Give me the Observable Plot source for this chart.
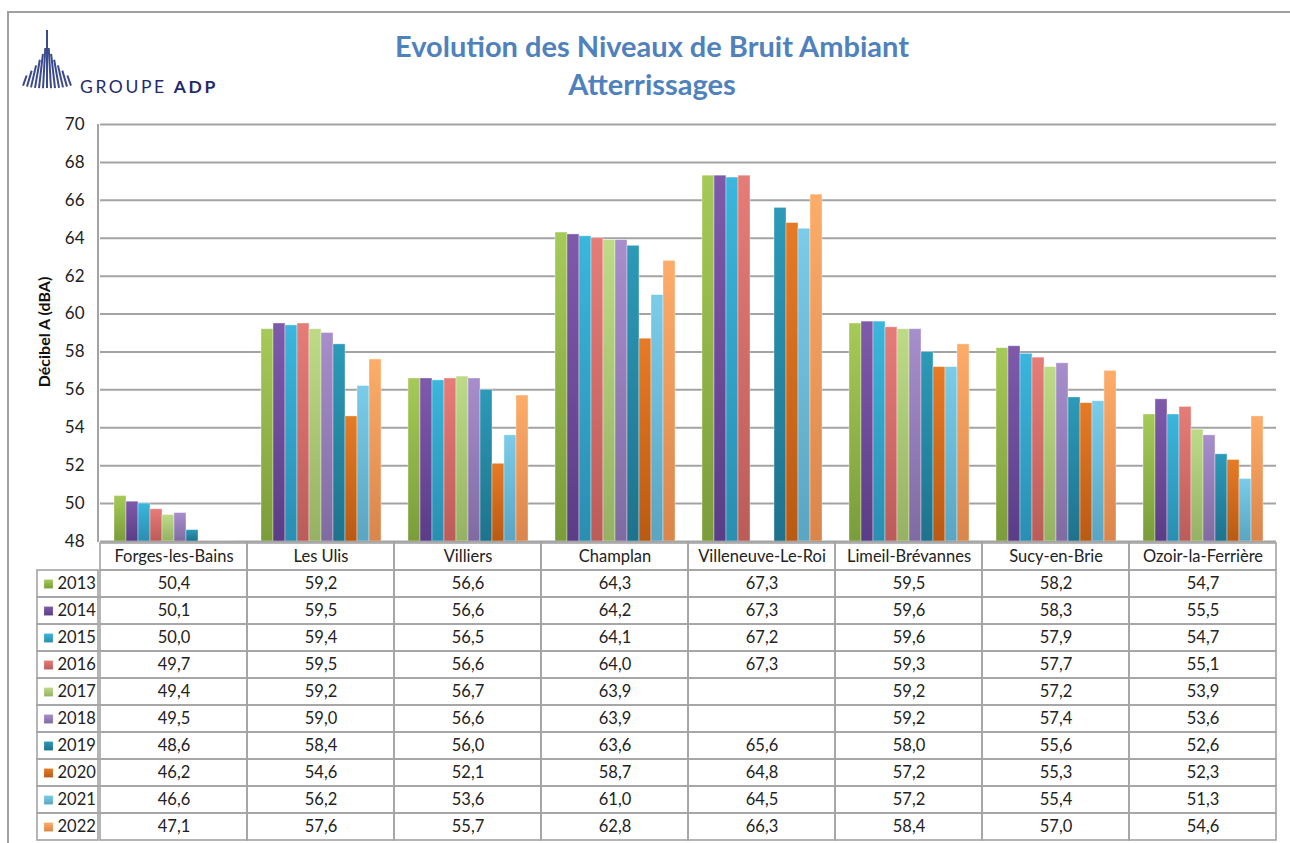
<!DOCTYPE html>
<html>
<head>
<meta charset="utf-8">
<script src="https://cdn.jsdelivr.net/npm/d3@7"></script>
<script src="https://cdn.jsdelivr.net/npm/@observablehq/plot@0.6"></script>
<style>
  html, body { margin: 0; padding: 0; background: #fff; }
  #root { position: relative; width: 1290px; height: 843px; overflow: hidden; font-family: Lato, "Open Sans", sans-serif; background: #fff; }
  #root svg.plotsvg { position: absolute; }
  #frame { position: absolute; left: 7px; top: 11px; width: 2000px; height: 2000px; border-left: 2px solid #a0a0a0; border-top: 2px solid #a0a0a0; }
  #title { position: absolute; left: 0; width: 1304px; top: 27px; text-align: center; color: #4f81bd; font-weight: 700; font-size: 29px; line-height: 38px; }
  #ylabel { position: absolute; left: 43px; top: 332px; transform: translate(-50%, -50%) rotate(-90deg); font-weight: 700; font-size: 16px; color: #111; white-space: nowrap; }
  #yline { position: absolute; left: 97px; top: 124px; width: 2px; height: 418px; background: #a3a3a3; }
  #logo { position: absolute; left: 0; top: 0; }
</style>
</head>
<body>
<div id="root">
  <div id="frame"></div>
  <svg id="logo" width="240" height="110" viewBox="0 0 240 110"></svg>
  <div id="title">Evolution des Niveaux de Bruit Ambiant<br>Atterrissages</div>
  <div id="ylabel">Décibel A (dBA)</div>
</div>
<script>
// ---- Data ----
const sites = ["Forges-les-Bains", "Les Ulis", "Villiers", "Champlan", "Villeneuve-Le-Roi", "Limeil-Brévannes", "Sucy-en-Brie", "Ozoir-la-Ferrière"];
const years = [2013, 2014, 2015, 2016, 2017, 2018, 2019, 2020, 2021, 2022];
const db2013 = [50.4, 59.2, 56.6, 64.3, 67.3, 59.5, 58.2, 54.7];
const db2014 = [50.1, 59.5, 56.6, 64.2, 67.3, 59.6, 58.3, 55.5];
const db2015 = [50.0, 59.4, 56.5, 64.1, 67.2, 59.6, 57.9, 54.7];
const db2016 = [49.7, 59.5, 56.6, 64.0, 67.3, 59.3, 57.7, 55.1];
const db2017 = [49.4, 59.2, 56.7, 63.9, null, 59.2, 57.2, 53.9];
const db2018 = [49.5, 59.0, 56.6, 63.9, null, 59.2, 57.4, 53.6];
const db2019 = [48.6, 58.4, 56.0, 63.6, 65.6, 58.0, 55.6, 52.6];
const db2020 = [46.2, 54.6, 52.1, 58.7, 64.8, 57.2, 55.3, 52.3];
const db2021 = [46.6, 56.2, 53.6, 61.0, 64.5, 57.2, 55.4, 51.3];
const db2022 = [47.1, 57.6, 55.7, 62.8, 66.3, 58.4, 57.0, 54.6];
const yTicks = [48, 50, 52, 54, 56, 58, 60, 62, 64, 66, 68, 70];
const yearTop = ["#a6ca58", "#7f5aab", "#3bb6dc", "#e67c78", "#bddb87", "#a78ecc", "#2c9ab8", "#e67b26", "#7acce9", "#fdac69"];
const yearBottom = ["#7a9c3a", "#5a3d86", "#2a8eb0", "#bb5c59", "#95b163", "#7f6ba1", "#1f728c", "#b95a13", "#5aa5c1", "#da854b"];

const series = [db2013, db2014, db2015, db2016, db2017, db2018, db2019, db2020, db2021, db2022];
const rows = [];
years.forEach((yr, i) => sites.forEach((s, j) => rows.push({site: s, year: yr, value: series[i][j]})));
const fmt = v => v == null ? "" : v.toFixed(1).replace(".", ",");
const rowKeys = ["header", ...years.map(String)];
const gradUrl = years.map(y => `url(#grad${y})`);
const NS = "http://www.w3.org/2000/svg";

// ---- Logo (decorative) ----
(function () {
  const logo = document.getElementById("logo");
  const ax = 47, ay = 18;
  for (let i = -6; i <= 6; i++) {
    const a = i * 3.25 * Math.PI / 180;
    const k = Math.abs(i);
    const r0 = k === 0 ? 12 : 30 + (k - 1) * 6.2;
    const r1 = 70 + k * 0.3;
    const l = document.createElementNS(NS, "line");
    l.setAttribute("x1", ax + r0 * Math.sin(a)); l.setAttribute("y1", ay + r0 * Math.cos(a));
    l.setAttribute("x2", ax + r1 * Math.sin(a)); l.setAttribute("y2", ay + r1 * Math.cos(a));
    l.setAttribute("stroke", "#3b4a8c"); l.setAttribute("stroke-width", "2");
    logo.appendChild(l);
  }
  const t = document.createElementNS(NS, "text");
  t.setAttribute("x", 80); t.setAttribute("y", 93);
  t.setAttribute("font-family", "Lato, sans-serif"); t.setAttribute("font-size", "17.5");
  t.setAttribute("fill", "#1f2a6e"); t.setAttribute("letter-spacing", "2.6");
  t.innerHTML = '<tspan>GROUPE </tspan><tspan font-weight="700">ADP</tspan>';
  logo.appendChild(t);
})();

const root = document.getElementById("root");
const place = (svg, left, top) => { svg.classList.add("plotsvg"); svg.style.left = left + "px"; svg.style.top = top + "px"; svg.style.maxWidth = "none"; root.appendChild(svg); };

// ---- Bar chart ----
const chart = Plot.plot({
  width: 1290, height: 432,
  marginTop: 14, marginBottom: 1, marginLeft: 98, marginRight: 12,
  style: {background: "transparent", fontFamily: "Lato, sans-serif", fontSize: "17px", color: "#222", overflow: "visible"},
  fx: {domain: sites, padding: 0, axis: null, label: null},
  x: {domain: years, padding: 0, paddingInner: 0, paddingOuter: 0.75, axis: null},
  y: {domain: [48, 70], ticks: yTicks, tickSize: 0, tickPadding: 16, label: null, tickFormat: d => String(d)},
  color: {domain: years, range: gradUrl},
  marks: [
    Plot.ruleY(yTicks, {stroke: "#a3a3a3", strokeWidth: 2}),
    Plot.barY(rows, {fx: "site", x: "year", y1: 48, y2: "value", fill: "year", clip: true, stroke: "#ffffff", strokeOpacity: 0.45, strokeWidth: 0.8})
  ]
});
const defs = document.createElementNS(NS, "defs");
years.forEach((y, i) => {
  const g = document.createElementNS(NS, "linearGradient");
  g.setAttribute("id", `grad${y}`);
  g.setAttribute("x1", "0"); g.setAttribute("y1", "0"); g.setAttribute("x2", "0"); g.setAttribute("y2", "1");
  const s1 = document.createElementNS(NS, "stop"); s1.setAttribute("offset", "0"); s1.setAttribute("stop-color", yearTop[i]);
  const s2 = document.createElementNS(NS, "stop"); s2.setAttribute("offset", "1"); s2.setAttribute("stop-color", yearBottom[i]);
  g.appendChild(s1); g.appendChild(s2); defs.appendChild(g);
});
chart.prepend(defs);
place(chart, 0, 110);

// ---- Data table: values ----
const cellData = [];
rowKeys.forEach(r => sites.forEach(s => cellData.push({site: s, row: r})));
const valueCells = rows.map(d => ({site: d.site, row: String(d.year), label: fmt(d.value)}));
const table = Plot.plot({
  width: 1290, height: 304,
  marginTop: 1, marginBottom: 2, marginLeft: 98, marginRight: 12,
  style: {background: "transparent", fontFamily: "Lato, sans-serif", fontSize: "16.5px", color: "#222", overflow: "visible"},
  x: {domain: sites, padding: 0, axis: null},
  y: {domain: rowKeys, padding: 0, axis: null},
  marks: [
    Plot.cell(cellData, {x: "site", y: "row", fill: "none", stroke: "#a3a3a3", strokeWidth: 1.6}),
    Plot.text(sites, {x: d => d, y: () => "header", text: d => d, fill: "#222"}),
    Plot.text(valueCells, {x: "site", y: "row", text: "label", fill: "#222"})
  ]
});
place(table, 0, 540);

// ---- Data table: legend column ----
const legend = Plot.plot({
  width: 100, height: 304,
  marginTop: 1, marginBottom: 2, marginLeft: 37, marginRight: 2,
  style: {background: "transparent", fontFamily: "Lato, sans-serif", fontSize: "16.5px", color: "#222", overflow: "visible"},
  x: {domain: ["k"], padding: 0, axis: null},
  y: {domain: rowKeys, padding: 0, axis: null},
  color: {domain: years, range: gradUrl},
  marks: [
    Plot.cell(years, {x: () => "k", y: d => String(d), fill: "none", stroke: "#a3a3a3", strokeWidth: 1.6}),
    Plot.dot(years, {y: d => String(d), frameAnchor: "left", dx: 11, symbol: "square", r: 5, fill: d => d}),
    Plot.text(years, {y: d => String(d), frameAnchor: "left", dx: 20, textAnchor: "start", text: d => String(d), fill: "#222"})
  ]
});
place(legend, 0, 540);

const yl = document.createElement("div"); yl.id = "yline"; root.appendChild(yl);
</script>
</body>
</html>
